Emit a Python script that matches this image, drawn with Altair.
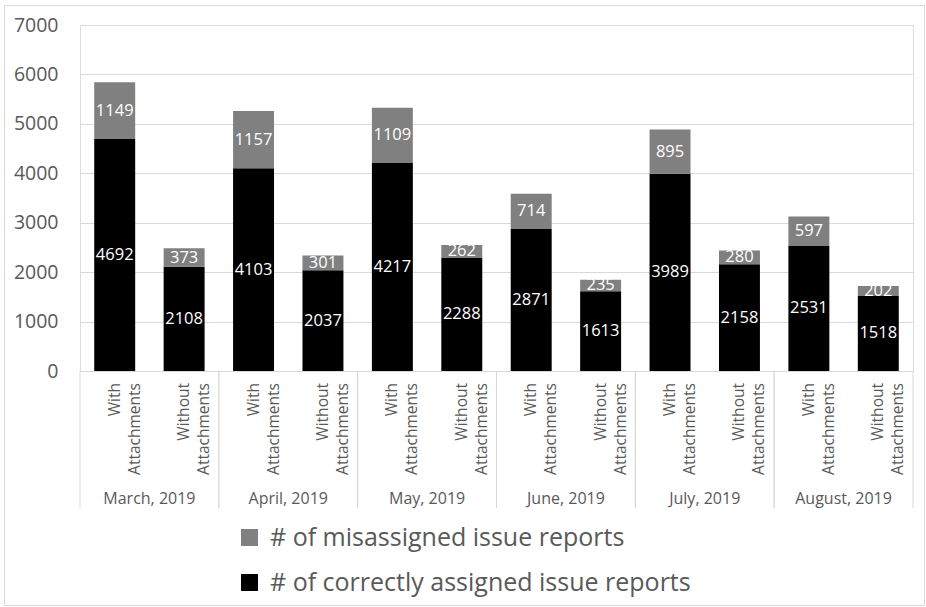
import altair as alt
import pandas as pd

months = ["March, 2019", "April, 2019", "May, 2019", "June, 2019", "July, 2019", "August, 2019"]
types = ["With Attachments", "Without Attachments"]
correct = [4692, 2108, 4103, 2037, 4217, 2288, 2871, 1613, 3989, 2158, 2531, 1518]
misassigned = [1149, 373, 1157, 301, 1109, 262, 714, 235, 895, 280, 597, 202]
series = ["# of misassigned issue reports", "# of correctly assigned issue reports"]
y_ticks = [0, 1000, 2000, 3000, 4000, 5000, 6000, 7000]

rows = []
for i, (c, m) in enumerate(zip(correct, misassigned)):
    month = months[i // 2]
    t = types[i % 2]
    rows.append(dict(month=month, type=t, series=series[1], value=c, y0=0, y1=c))
    rows.append(dict(month=month, type=t, series=series[0], value=m, y0=c, y1=c + m))
df = pd.DataFrame(rows)
df["mid"] = (df["y0"] + df["y1"]) / 2

sub_df = pd.DataFrame([dict(month=mo, type=t, label=t.replace(" ", "\n")) for mo in months for t in types])
sep_df = pd.DataFrame({"month": months})
frame_df = pd.DataFrame({"a": [0]})

GREY = "#595959"
FONT = "Open Sans"

x_enc = alt.X("month:N", sort=months, scale=alt.Scale(paddingInner=0, paddingOuter=0),
              axis=alt.Axis(title=None, labelAngle=0, domain=False, ticks=False, grid=False,
                            labelPadding=127, labelBaseline="middle", labelFontSize=16,
                            labelColor=GREY, labelFont=FONT))
xo_enc = alt.XOffset("type:N", sort=types, scale=alt.Scale(paddingInner=0.41, paddingOuter=0.205))

bars = alt.Chart(df).mark_bar().encode(
    x=x_enc,
    xOffset=xo_enc,
    y=alt.Y("y0:Q", scale=alt.Scale(domain=[0, 7000], nice=False),
            axis=alt.Axis(values=y_ticks, format="d", title=None, labelFontSize=19.5, labelColor=GREY,
                          labelFont=FONT, labelPadding=22, domain=False, ticks=False,
                          gridColor="#d9d9d9")),
    y2="y1:Q",
    color=alt.Color("series:N", sort=series,
                    scale=alt.Scale(domain=series, range=["#808080", "#000000"]),
                    legend=alt.Legend(title=None, orient="none", legendX=157, legendY=500,
                                      symbolType="square", symbolSize=289, symbolStrokeWidth=0,
                                      labelFontSize=25, labelColor=GREY, labelFont=FONT,
                                      rowPadding=19, labelOffset=8, labelLimit=0)),
)

labels = alt.Chart(df).mark_text(color="white", fontSize=16.5, font=FONT, baseline="middle").encode(
    x=alt.X("month:N", sort=months),
    xOffset=alt.XOffset("type:N", sort=types),
    y="mid:Q",
    text="value:Q",
)

sublabels = alt.Chart(sub_df).mark_text(
    angle=270, align="right", baseline="middle", lineBreak="\n", fontSize=15.5,
    lineHeight=20, color=GREY, font=FONT
).encode(
    x=alt.X("month:N", sort=months),
    xOffset=alt.XOffset("type:N", sort=types),
    y=alt.value(358),
    text="label:N",
)

seps_start = alt.Chart(sep_df).mark_rule(color="#d9d9d9", strokeWidth=1).encode(
    x=alt.X("month:N", sort=months, bandPosition=0),
    y=alt.value(346), y2=alt.value(483),
)
seps_end = alt.Chart(sep_df).mark_rule(color="#d9d9d9", strokeWidth=1).encode(
    x=alt.X("month:N", sort=months, bandPosition=1),
    y=alt.value(346), y2=alt.value(483),
)

frame = alt.Chart(frame_df).mark_rect(fillOpacity=0, stroke="#d9d9d9", strokeWidth=1).encode(
    x=alt.value(-75.5), x2=alt.value(844.5), y=alt.value(-19.5), y2=alt.value(580.5)
)

chart = alt.layer(frame, bars, labels, seps_start, seps_end, sublabels).properties(
    width=833, height=346,
    autosize=alt.AutoSizeParams(type="none"),
    padding={"left": 80, "top": 25, "right": 13, "bottom": 236},
).configure_view(strokeWidth=0).configure(font=FONT)

chart.save("out.html", embed_options={"renderer": "svg", "actions": False})
